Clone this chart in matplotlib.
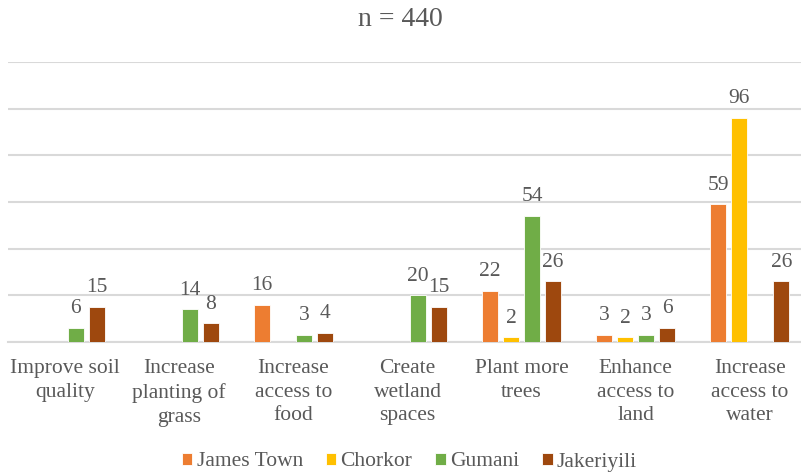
import numpy as np
import matplotlib.pyplot as plt

# -----------------------------
# Data
# -----------------------------
categories = ["Improve soil\nquality", "Increase\nplanting of\ngrass", "Increase\naccess to\nfood",
              "Create\nwetland\nspaces", "Plant more\ntrees", "Enhance\naccess to\nland",
              "Increase\naccess to\nwater"]
series_names = ["James Town", "Chorkor", "Gumani", "Jakeriyili"]
james_town = [np.nan, np.nan, 16, np.nan, 22, 3, 59]
chorkor = [np.nan, np.nan, np.nan, np.nan, 2, 2, 96]
gumani = [6, 14, 3, 20, 54, 3, np.nan]
jakeriyili = [15, 8, 4, 15, 26, 6, 26]
colors = ["#ED7D31", "#FFC000", "#70AD47", "#9E480E"]

# -----------------------------
# Plot
# -----------------------------
plt.rcParams["font.family"] = ["Liberation Serif", "DejaVu Serif"]
text_color = "#595959"

fig = plt.figure(figsize=(8.01, 4.74), dpi=100)
ax = fig.add_axes([8 / 801, 132 / 474, 799 / 801, 280 / 474])

x = np.arange(len(categories))
step = 0.184
width = 0.14
for i, (name, vals, c) in enumerate(zip(series_names, [james_town, chorkor, gumani, jakeriyili], colors)):
    pos = x + (i - 1.5) * step
    vals = np.array(vals, dtype=float)
    ax.bar(pos, np.nan_to_num(vals), width, color=c, label=name,
           edgecolor="white", linewidth=0.6, zorder=3)
    for p, v in zip(pos, vals):
        if not np.isnan(v):
            ax.annotate(f"{int(v)}", (p, v), xytext=(0, 7), textcoords="offset points",
                        ha="center", va="bottom", fontsize=15.5, color=text_color)

ax.set_xlim(-0.5, len(categories) - 0.5)
ax.set_ylim(0, 120)
ax.set_yticks(np.arange(0, 121, 20))
ax.yaxis.grid(True, color="#D9D9D9", linewidth=1.5)
ax.set_axisbelow(True)
ax.tick_params(axis="y", left=False, labelleft=False)
ax.tick_params(axis="x", length=0, pad=12)
ax.set_xticks(x)
ax.set_xticklabels(categories, fontsize=15.5, color=text_color, va="top", linespacing=1.35)
for s in ["top", "right", "left"]:
    ax.spines[s].set_visible(False)
ax.spines["bottom"].set_color("#D9D9D9")
ax.spines["bottom"].set_linewidth(1.5)

fig.text(0.5, 1 - 19 / 474, "n = 440", ha="center", va="center", fontsize=20, color=text_color)

leg = fig.legend(loc="center", bbox_to_anchor=(0.511, 1 - 462 / 474), ncol=4, frameon=False,
                 fontsize=15.5, handlelength=0.5, handleheight=0.5, handletextpad=0.2,
                 columnspacing=1.05)
for t in leg.get_texts():
    t.set_color(text_color)

plt.savefig("out.png", dpi=100)
